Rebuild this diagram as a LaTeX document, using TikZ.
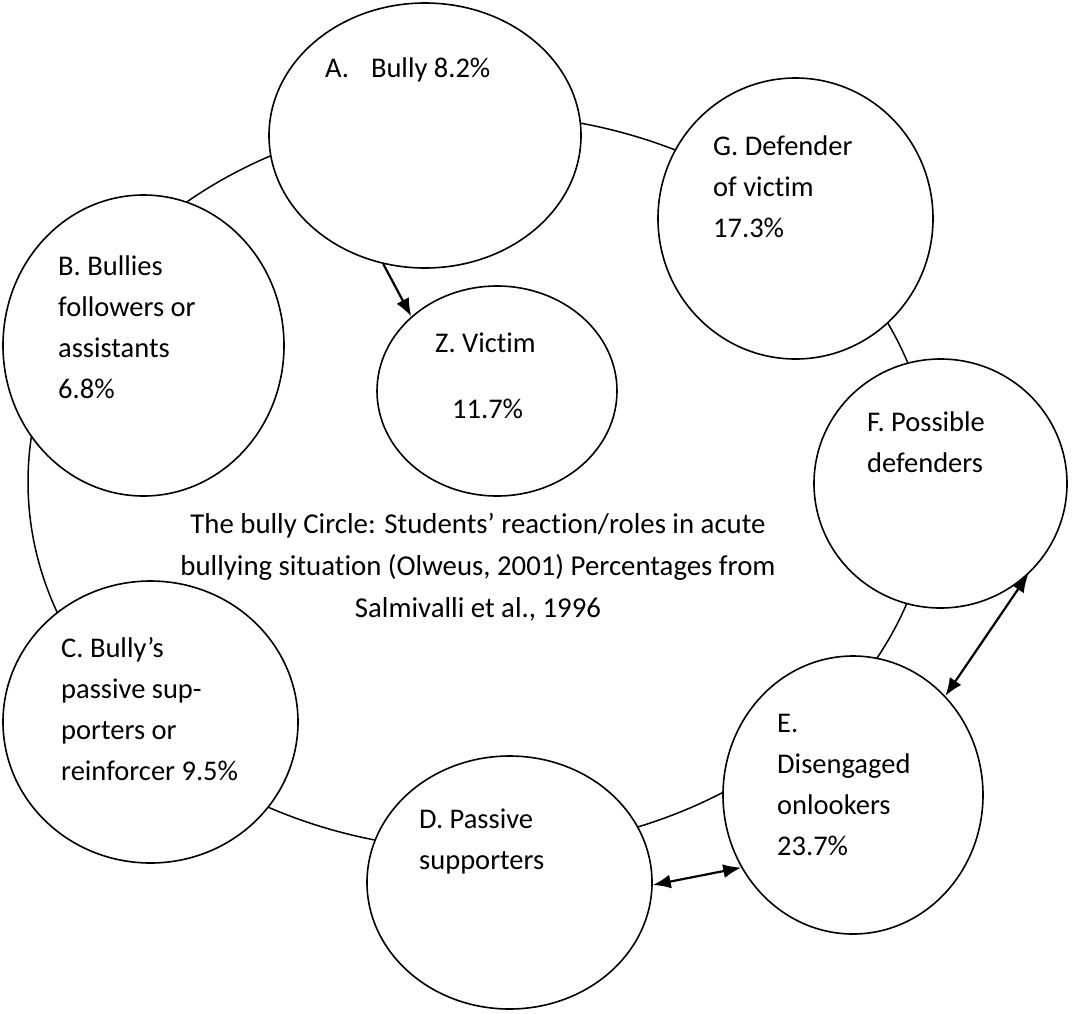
\documentclass[tikz,border=0pt]{standalone}
\usepackage{fontspec}
\setmainfont{Carlito}[Ligatures=CommonOff]
\usetikzlibrary{shapes.geometric,arrows.meta}
\begin{document}
\begin{tikzpicture}[x=1pt,y=-1pt,
  role/.style={ellipse,draw=black,line width=1.6pt,fill=white,inner sep=0pt},
  lbl/.style={anchor=base west,align=left,inner sep=0pt,font=\fontsize{28.5}{41}\selectfont},
  conn/.style={line width=2.2pt,-{Latex[length=18pt,width=14pt]}},
  bconn/.style={line width=2.2pt,{Latex[length=18pt,width=14pt]}-{Latex[length=18pt,width=14pt]}}]
\useasboundingbox (0,0) rectangle (1090,1013);
% background circle
\draw[line width=1.5pt] (480,482) ellipse [x radius=452, y radius=368];
% role circles
\node[role,minimum width=312pt,minimum height=265pt] (A) at (425,135.5) {};
\node[role,minimum width=281pt,minimum height=301pt] (B) at (143.5,345.5) {};
\node[role,minimum width=240pt,minimum height=210pt] (Z) at (497,391) {};
\node[role,minimum width=275pt,minimum height=281pt] (G) at (795.5,218.5) {};
\node[role,minimum width=253pt,minimum height=249pt] (F) at (940.5,483.5) {};
\node[role,minimum width=295pt,minimum height=282pt] (C) at (150.5,722) {};
\node[role,minimum width=285pt,minimum height=253pt] (D) at (509.5,882.5) {};
\node[role,minimum width=260pt,minimum height=278pt] (E) at (853,795) {};
% labels (anchor = baseline of the last line)
\node[lbl] (tA) at (325,77) {A.\hspace{22pt}Bully 8.2\%};
\node[lbl] (tB) at (58,398) {B. Bullies\\followers or\\assistants\\6.8\%};
\node[lbl] (tZ1) at (435,352) {Z. Victim};
\node[lbl] (tZ2) at (452,418) {11.7\%};
\node[lbl] (tG) at (713,237) {G. Defender\\of victim\\17.3\%};
\node[lbl] (tF) at (867,472) {F. Possible\\defenders};
\node[lbl] (tC) at (61,780) {C. Bully’s\\passive sup-\\porters or\\reinforcer 9.5\%};
\node[lbl] (tD) at (419,869) {D. Passive\\supporters};
\node[lbl] (tE) at (777,855) {E.\\Disengaged\\onlookers\\23.7\%};
\node[anchor=base,align=center,inner sep=0pt,font=\fontsize{28.8}{42}\selectfont] (title) at (478,617)
  {The bully Circle: Students’ reaction/roles in acute\\bullying situation (Olweus, 2001) Percentages from\\Salmivalli et al., 1996};
% connectors
\draw[conn] (A.252) -- (Z.139);
\draw[bconn] (F.314) -- (E.47);
\draw[bconn] (D.359) -- (E.213);
\end{tikzpicture}
\end{document}
